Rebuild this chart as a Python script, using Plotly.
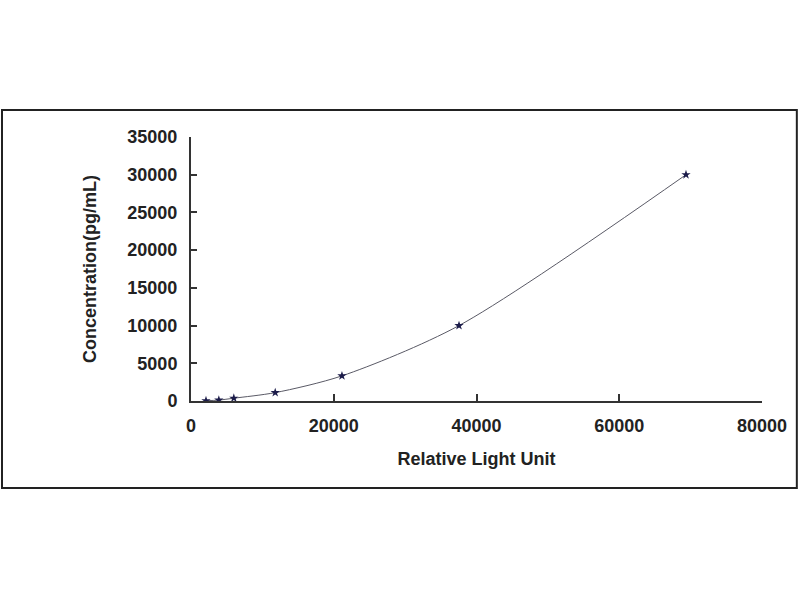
import plotly.graph_objects as go

rlu = [2100, 3900, 6000, 11800, 21150, 37550, 69350]
conc = [41, 123, 370, 1111, 3333, 10000, 30000]
x_ticks = [0, 20000, 40000, 60000, 80000]
y_ticks = [0, 5000, 10000, 15000, 20000, 25000, 30000, 35000]

fig = go.Figure()
fig.add_trace(go.Scatter(
    x=rlu, y=conc, mode="lines+markers",
    line=dict(color="#5a5a66", width=1, shape="spline", smoothing=0.8),
    marker=dict(symbol="star", size=7, color="#1c1c4a"),
    showlegend=False,
))

fam = "Liberation Sans, Arial, sans-serif"
fig.update_layout(
    width=800, height=600,
    margin=dict(l=191, r=38, t=137, b=199),
    paper_bgcolor="white", plot_bgcolor="white",
    font=dict(family=fam, size=18, color="#222222"),
    xaxis=dict(
        range=[0, 80000], tickvals=x_ticks, ticktext=[str(v) for v in x_ticks],
        showgrid=False, zeroline=False, showline=True, linecolor="#333333", linewidth=2,
        ticks="inside", ticklen=7, tickwidth=1.5, tickcolor="#333333",
        tickfont=dict(family=fam, size=18, color="#222222", weight="bold"),
        ticklabelstandoff=7,
        title=dict(text="<b>Relative Light Unit</b>", standoff=18,
                   font=dict(family=fam, size=18, color="#222222")),
    ),
    yaxis=dict(
        range=[0, 35000], tickvals=y_ticks, ticktext=[str(v) for v in y_ticks],
        showgrid=False, zeroline=False, showline=True, linecolor="#333333", linewidth=2,
        ticks="inside", ticklen=6, tickwidth=1.5, tickcolor="#333333",
        tickfont=dict(family=fam, size=18, color="#222222", weight="bold"),
        ticklabelstandoff=8,
        title=dict(text="<b>Concentration(pg/mL)</b>", standoff=26,
                   font=dict(family=fam, size=18, color="#222222")),
    ),
    shapes=[dict(
        type="rect", xref="paper", yref="paper",
        x0=-0.331, x1=1.061, y0=-0.3295, y1=1.102,
        line=dict(color="#222222", width=2), fillcolor="rgba(0,0,0,0)", layer="below",
    )],
)

fig.write_html("out.html", config={"displayModeBar": False},
               post_script="document.body.style.margin='0';")
